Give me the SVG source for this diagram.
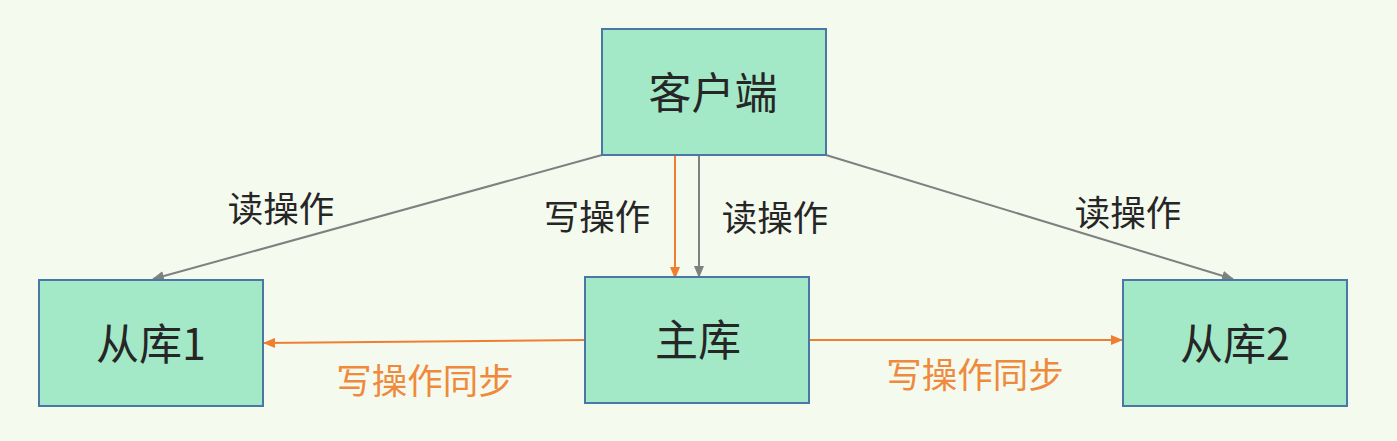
<svg xmlns="http://www.w3.org/2000/svg" width="1397" height="441" viewBox="0 0 1397 441">
<style>
.box{fill:#a3e8c7;stroke:#4a78a6;stroke-width:2}
.t{font-family:"Noto Sans CJK SC","Liberation Sans",sans-serif;fill:#262626;text-anchor:middle;dominant-baseline:central}
.big{font-size:43px}
.lbl{font-size:35.5px}
.or{fill:#ef8a3c}
.g{stroke:#808080;stroke-width:2;fill:none}
.o{stroke:#ef7f2f;stroke-width:2;fill:none}
</style>
<defs>
<marker id="ag" markerWidth="12" markerHeight="10" refX="11" refY="5" orient="auto" markerUnits="userSpaceOnUse"><path d="M0,0 L12,5 L0,10 Z" fill="#808080"/></marker>
<marker id="ao" markerWidth="12" markerHeight="10" refX="11" refY="5" orient="auto" markerUnits="userSpaceOnUse"><path d="M0,0 L12,5 L0,10 Z" fill="#ef7f2f"/></marker>
</defs>
<rect width="1397" height="441" fill="#f5faee"/>
<g id="connectors">
<line class="g" x1="602" y1="155" x2="153" y2="279" marker-end="url(#ag)"/>
<line class="g" x1="826" y1="155" x2="1233" y2="279" marker-end="url(#ag)"/>
<line class="g" x1="699" y1="155" x2="699" y2="277" marker-end="url(#ag)"/>
<line class="o" x1="675" y1="152" x2="675" y2="278" marker-end="url(#ao)"/>
<line class="o" x1="585" y1="340" x2="264" y2="343" marker-end="url(#ao)"/>
<line class="o" x1="809" y1="340" x2="1122" y2="340" marker-end="url(#ao)"/>
<text class="t lbl" x="281" y="206">读操作</text>
<text class="t lbl" x="597" y="214">写操作</text>
<text class="t lbl" x="775" y="215">读操作</text>
<text class="t lbl" x="1128" y="210">读操作</text>
<text class="t lbl or" x="425" y="378">写操作同步</text>
<text class="t lbl or" x="975" y="372">写操作同步</text>
</g>
<g id="client"><rect class="box" x="602" y="29" width="224" height="126"/><text class="t big" x="713" y="90">客户端</text></g>
<g id="master"><rect class="box" x="585" y="277" width="224" height="126"/><text class="t big" x="698" y="337">主库</text></g>
<g id="slave1"><rect class="box" x="39" y="280" width="224" height="126"/><text class="t big" x="151" y="341">从库1</text></g>
<g id="slave2"><rect class="box" x="1123" y="280" width="224" height="126"/><text class="t big" x="1235" y="341">从库2</text></g>
</svg>
